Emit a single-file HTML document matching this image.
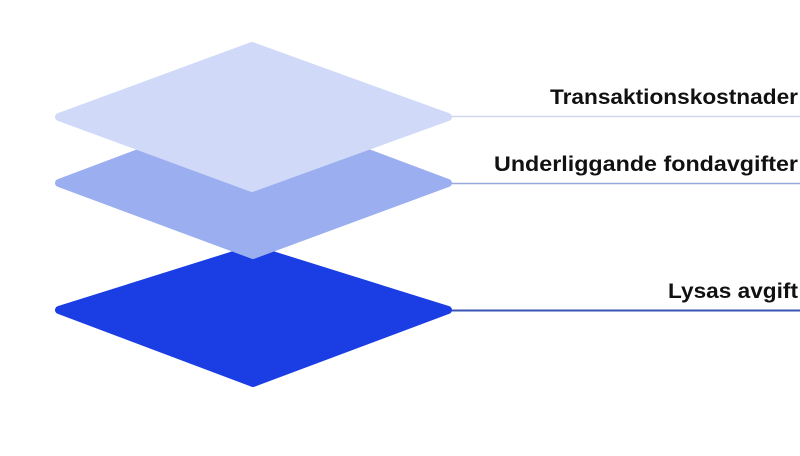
<!DOCTYPE html>
<html><head><style>html,body{margin:0;padding:0;background:#fff;width:800px;height:456px;overflow:hidden}</style></head>
<body>
<svg width="800" height="456" viewBox="0 0 800 456" xmlns="http://www.w3.org/2000/svg">
<line x1="450" y1="116.5" x2="800" y2="116.5" stroke="#cfd7ef" stroke-width="1.5"/>
<line x1="450" y1="183.5" x2="800" y2="183.5" stroke="#98a8dc" stroke-width="1.5"/>
<line x1="450" y1="310.5" x2="800" y2="310.5" stroke="#3a55b5" stroke-width="2"/>
<g stroke-linejoin="round" stroke-width="8">
<polygon points="59,310 253,249 448,310 253,383" fill="#1a3de4" stroke="#1a3de4"/>
<polygon points="59,183 253,110 448,183 253,255" fill="#9aaef0" stroke="#9aaef0"/>
<polygon points="59,117 252,46 448,117 252,188" fill="#d0daf8" stroke="#d0daf8"/>
</g>
<g font-family="Liberation Sans, sans-serif" font-weight="bold" font-size="21" fill="#111" text-anchor="end">
<text x="798" y="104" textLength="248" lengthAdjust="spacingAndGlyphs">Transaktionskostnader</text>
<text x="798" y="171" textLength="304" lengthAdjust="spacingAndGlyphs">Underliggande fondavgifter</text>
<text x="798" y="298" textLength="130" lengthAdjust="spacingAndGlyphs">Lysas avgift</text>
</g>
</svg>
</body></html>
